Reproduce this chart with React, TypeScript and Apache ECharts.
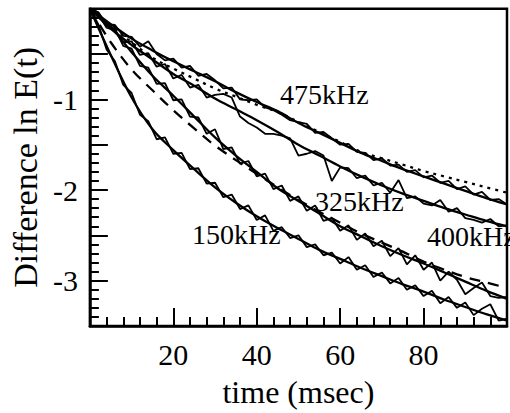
import React, { useEffect, useRef } from "react";
import * as echarts from "echarts";

// time axis (msec) for the fitted curves and for the measured data
const T_FIT = [0, 5, 10, 15, 20, 25, 30, 35, 40, 45, 50, 55, 60, 65, 70, 75, 80, 85, 90, 95, 100];
const T_DATA = [
  0, 2, 4, 6, 8, 10, 12, 14, 16, 18, 20, 22, 24, 26, 28, 30, 32, 34, 36, 38, 40, 42, 44, 46, 48, 50,
  52, 54, 56, 58, 60, 62, 64, 66, 68, 70, 72, 74, 76, 78, 80, 82, 84, 86, 88, 90, 92, 94, 96, 98, 100,
];

// fitted curves (solid)
const FIT_150 = [0, -0.51, -0.98, -1.33, -1.56, -1.77, -1.97, -2.14, -2.29, -2.42, -2.54, -2.66, -2.76, -2.86, -2.95, -3.04, -3.12, -3.21, -3.29, -3.37, -3.44];
const FIT_325 = [0, -0.2, -0.48, -0.74, -0.96, -1.19, -1.42, -1.62, -1.8, -1.98, -2.12, -2.26, -2.4, -2.51, -2.62, -2.72, -2.81, -2.91, -3.01, -3.11, -3.2];
const FIT_400 = [0, -0.22, -0.4, -0.56, -0.72, -0.85, -0.99, -1.11, -1.23, -1.36, -1.5, -1.62, -1.74, -1.85, -1.95, -2.04, -2.12, -2.2, -2.27, -2.34, -2.4];
const FIT_475 = [0, -0.17, -0.33, -0.46, -0.58, -0.69, -0.8, -0.92, -1.03, -1.13, -1.26, -1.37, -1.48, -1.59, -1.68, -1.77, -1.85, -1.93, -2.01, -2.09, -2.16];
// extra model curves
const FIT_DASHED = [0, -0.37, -0.67, -0.9, -1.12, -1.32, -1.51, -1.67, -1.82, -1.97, -2.11, -2.24, -2.36, -2.48, -2.58, -2.68, -2.79, -2.88, -2.96, -3.02, -3.08];
const FIT_DOTTED = [0, -0.19, -0.37, -0.54, -0.66, -0.77, -0.88, -0.97, -1.06, -1.14, -1.25, -1.36, -1.47, -1.58, -1.65, -1.72, -1.79, -1.85, -1.91, -1.97, -2.03];

// measured (noisy) data
const DATA_150 = [0, -0.17, -0.45, -0.58, -0.84, -0.93, -1.17, -1.24, -1.44, -1.42, -1.6, -1.59, -1.77, -1.76, -1.93, -1.92, -2.08, -2.05, -2.21, -2.17, -2.33, -2.28, -2.45, -2.41, -2.53, -2.5, -2.63, -2.6, -2.72, -2.69, -2.81, -2.74, -2.88, -2.83, -2.96, -2.91, -3.03, -2.97, -3.1, -3.05, -3.17, -3.11, -3.25, -3.18, -3.3, -3.24, -3.38, -3.31, -3.26, -3.44, -3.42];
const DATA_325 = [0, -0.04, -0.19, -0.22, -0.41, -0.44, -0.63, -0.65, -0.83, -0.82, -1.01, -1.0, -1.19, -1.2, -1.38, -1.33, -1.55, -1.53, -1.71, -1.68, -1.85, -1.82, -1.99, -1.95, -2.12, -2.07, -2.23, -2.17, -2.34, -2.31, -2.45, -2.39, -2.55, -2.48, -2.62, -2.56, -2.73, -2.64, -2.82, -2.72, -2.88, -2.8, -3.0, -2.9, -2.99, -3.15, -3.08, -3.02, -3.17, -3.19, -3.18];
const DATA_400 = [0, -0.06, -0.21, -0.24, -0.37, -0.36, -0.51, -0.49, -0.64, -0.61, -0.77, -0.73, -0.87, -0.84, -0.98, -0.95, -0.94, -0.98, -1.19, -1.26, -1.31, -1.38, -1.38, -1.4, -1.43, -1.62, -1.6, -1.57, -1.62, -1.9, -1.75, -1.76, -1.87, -1.84, -1.95, -1.92, -2.03, -1.89, -2.09, -2.07, -2.15, -2.17, -2.11, -2.24, -2.2, -2.31, -2.33, -2.36, -2.32, -2.4, -2.39];
const DATA_475 = [0, -0.04, -0.17, -0.18, -0.3, -0.31, -0.42, -0.36, -0.5, -0.57, -0.55, -0.65, -0.63, -0.74, -0.72, -0.79, -0.88, -0.87, -1.0, -1.01, -1.0, -1.09, -1.12, -1.17, -1.23, -1.25, -1.27, -1.37, -1.36, -1.43, -1.5, -1.49, -1.58, -1.59, -1.67, -1.65, -1.73, -1.72, -1.8, -1.78, -1.86, -1.84, -1.92, -1.9, -1.99, -1.96, -2.05, -2.02, -2.11, -2.1, -2.16];

const CURVE_LABELS = ["475kHz", "325kHz", "400kHz", "150kHz"];

const FONT = "Liberation Serif";

const pairs = (ts: number[], vs: number[]) => ts.map((t, i) => [t, vs[i]]);

export default function App() {
  const ref = useRef<HTMLDivElement>(null);

  useEffect(() => {
    if (!ref.current) return;
    const chart = echarts.init(ref.current, undefined, { renderer: "svg" });

    const fit = (name: string, vs: number[], dash?: number[]) => ({
      name,
      type: "line",
      data: pairs(T_FIT, vs),
      smooth: 0.35,
      showSymbol: false,
      symbol: "none",
      lineStyle: {
        color: "#000",
        width: 2.3,
        type: dash ? dash : "solid",
      },
      z: 3,
    });
    const noisy = (name: string, vs: number[]) => ({
      name,
      type: "line",
      data: pairs(T_DATA, vs),
      showSymbol: false,
      symbol: "none",
      lineStyle: { color: "#000", width: 1.8 },
      z: 2,
    });

    const labelStyle = (text: string, x: number, y: number) => ({
      type: "text",
      x,
      y,
      style: {
        text,
        fill: "#000",
        fontSize: 28,
        fontFamily: FONT,
        align: "left",
        verticalAlign: "middle",
      },
      z: 10,
    });

    const axisCommon = {
      axisLine: { show: true, onZero: false, lineStyle: { color: "#000", width: 2.5 } },
      axisTick: { show: true, inside: true, length: 18, lineStyle: { color: "#000", width: 2 } },
      minorTick: { show: true, splitNumber: 5, length: 9, lineStyle: { color: "#000", width: 2 } },
      splitLine: { show: false },
    };

    chart.setOption({
      animation: false,
      backgroundColor: "#fff",
      grid: {
        left: 87.5,
        top: 8.7,
        width: 433,
        height: 317.3,
        show: true,
        borderColor: "#000",
        borderWidth: 2.5,
      },
      xAxis: {
        type: "value",
        min: 0,
        max: 100,
        interval: 20,
        name: "time (msec)",
        nameLocation: "middle",
        nameGap: 50,
        nameTextStyle: { fontSize: 32, fontFamily: FONT, color: "#000" },
        ...axisCommon,
        axisLabel: {
          margin: 13,
          fontSize: 30,
          fontFamily: FONT,
          color: "#000",
          formatter: (v: number) => (v === 0 || v === 100 ? "" : String(v)),
        },
      },
      yAxis: {
        type: "value",
        min: -3.5,
        max: 0,
        interval: 0.5,
        name: "Difference ln E(t)",
        nameLocation: "middle",
        nameGap: 47,
        nameTextStyle: { fontSize: 34, fontFamily: FONT, color: "#000" },
        ...axisCommon,
        axisLabel: {
          margin: 12,
          fontSize: 30,
          fontFamily: FONT,
          color: "#000",
          formatter: (v: number) => (Number.isInteger(v) && v !== 0 ? String(v) : ""),
        },
      },
      graphic: [
        labelStyle(CURVE_LABELS[0], 280, 94),
        labelStyle(CURVE_LABELS[1], 315, 201),
        labelStyle(CURVE_LABELS[2], 427, 236),
        labelStyle(CURVE_LABELS[3], 192, 234),
      ],
      series: [
        noisy("150kHz data", DATA_150),
        noisy("325kHz data", DATA_325),
        noisy("400kHz data", DATA_400),
        noisy("475kHz data", DATA_475),
        fit("150kHz fit", FIT_150),
        fit("325kHz fit", FIT_325),
        fit("400kHz fit", FIT_400),
        fit("475kHz fit", FIT_475),
        fit("model dashed", FIT_DASHED, [11, 8]),
        fit("model dotted", FIT_DOTTED, [3, 5]),
      ],
    });

    return () => chart.dispose();
  }, []);

  return <div ref={ref} style={{ width: 510, height: 413, position: "absolute", left: 0, top: 0 }} />;
}
